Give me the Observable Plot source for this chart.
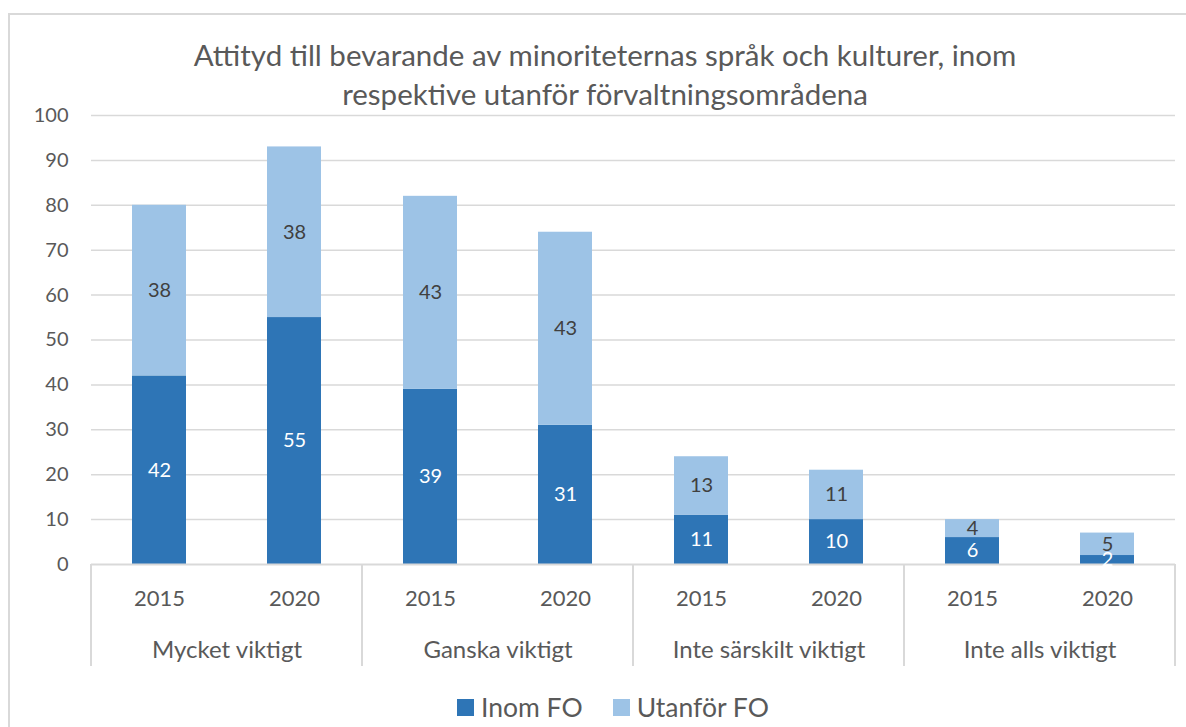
<!DOCTYPE html>
<html><head><meta charset="utf-8">
<script src="https://cdn.jsdelivr.net/npm/d3@7"></script>
<script src="https://cdn.jsdelivr.net/npm/@observablehq/plot@0.6"></script>
<style>
body{margin:0;background:#fff;font-family:Lato, sans-serif;}
#wrap{position:relative;width:1186px;height:727px;overflow:hidden;background:#fff;}
#border{position:absolute;left:8px;top:13px;width:1300px;height:800px;border:2px solid #d9d9d9;box-sizing:border-box;}
#title{position:absolute;left:0;width:1210px;top:35px;text-align:center;font-size:29.5px;line-height:39px;color:#595959;}
#chart{position:absolute;left:0;top:0;}
#legend{position:absolute;top:691px;left:457px;display:flex;align-items:center;font-size:26.5px;color:#595959;white-space:nowrap;}
#legend .sw{display:inline-block;width:17px;height:17px;margin-right:7px;}
#legend .item{display:flex;align-items:center;margin-right:30px;}
</style></head>
<body>
<div id="wrap">
  <div id="border"></div>
  <div id="chart"></div>
  <div id="title">Attityd till bevarande av minoriteternas språk och kulturer, inom<br>respektive utanför förvaltningsområdena</div>
  <div id="legend"></div>
</div>
<script>
const categories = ["Mycket viktigt", "Ganska viktigt", "Inte särskilt viktigt", "Inte alls viktigt"];
const years = ["2015", "2020"];
const seriesNames = ["Inom FO", "Utanför FO"];
const seriesColors = ["#2E75B6", "#9DC3E6"];
const inomFO = [42, 55, 39, 31, 11, 10, 6, 2];
const utanforFO = [38, 38, 43, 43, 13, 11, 4, 5];
const yTicks = [0, 10, 20, 30, 40, 50, 60, 70, 80, 90, 100];

const rows = [];
inomFO.forEach((v, i) => {
  rows.push({cat: categories[Math.floor(i / 2)], year: years[i % 2], series: seriesNames[0], value: v});
  rows.push({cat: categories[Math.floor(i / 2)], year: years[i % 2], series: seriesNames[1], value: utanforFO[i]});
});

const plot = Plot.plot({
  width: 1186, height: 727,
  marginLeft: 91, marginRight: 11, marginTop: 115, marginBottom: 163,
  style: {fontFamily: "Lato, sans-serif", fontSize: "20px", color: "#595959", background: "transparent", overflow: "visible"},
  fx: {domain: categories, paddingInner: 0, paddingOuter: 0, axis: null, label: null},
  x: {domain: years, paddingInner: 0.6, paddingOuter: 0.3, axis: null, label: null},
  y: {domain: [0, 100], ticks: yTicks, tickSize: 0, tickPadding: 23, label: null},
  color: {domain: seriesNames, range: seriesColors},
  marks: [
    Plot.ruleY(yTicks.filter(d => d > 0), {stroke: "#d9d9d9", strokeWidth: 1.5}),
    Plot.barY(rows, {fx: "cat", x: "year", y: "value", fill: "series", z: "series"}),
    Plot.ruleY([0], {stroke: "#d9d9d9", strokeWidth: 2}),
    Plot.axisX({tickSize: 0, tickPadding: 26, fontSize: 22, label: null}),
    Plot.axisFx({anchor: "bottom", tickSize: 0, tickPadding: 76, fontSize: 24, label: null}),
    Plot.text(rows, Plot.stackY({fx: "cat", x: "year", y: "value", z: "series",
      text: d => d.series === seriesNames[0] ? String(d.value) : null, fill: "white", fontSize: 20})),
    Plot.text(rows, Plot.stackY({fx: "cat", x: "year", y: "value", z: "series",
      text: d => d.series === seriesNames[1] ? String(d.value) : null, fill: "#404040", fontSize: 20}))
  ]
});

// group separators below the axis
const fxs = plot.scale("fx");
const ys = plot.scale("y");
const y0 = ys.apply(0);
const edges = categories.map(c => fxs.apply(c)).concat([fxs.apply(categories[categories.length - 1]) + fxs.bandwidth]);
d3.select(plot).append("g").selectAll("line").data(edges).join("line")
  .attr("x1", d => d).attr("x2", d => d).attr("y1", y0).attr("y2", y0 + 102)
  .attr("stroke", "#d9d9d9").attr("stroke-width", 2);

document.getElementById("chart").appendChild(plot);

const legend = d3.select("#legend");
seriesNames.forEach((s, i) => {
  const it = legend.append("div").attr("class", "item");
  it.append("span").attr("class", "sw").style("background", seriesColors[i]);
  it.append("span").text(s);
});
</script>
</body></html>
